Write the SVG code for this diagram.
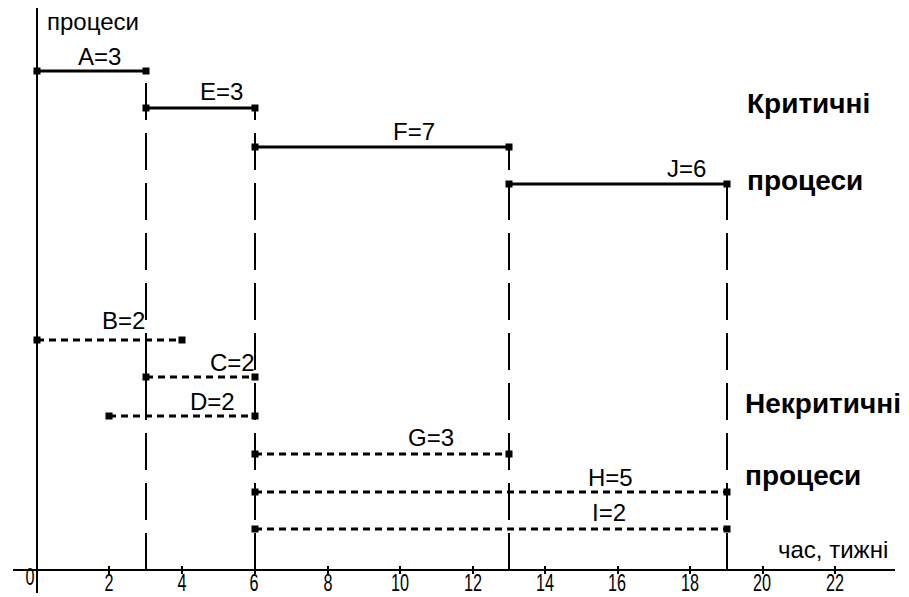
<svg xmlns="http://www.w3.org/2000/svg" width="909" height="597" viewBox="0 0 909 597">
<style>
text{font-family:"Liberation Sans",Arial,sans-serif;fill:#000}
.lbl{font-size:24px}
.big{font-size:28px;font-weight:bold}
.tick{font-size:23px;text-anchor:middle}
.axis{stroke:#000;stroke-width:2;fill:none}
.crit{stroke:#000;stroke-width:3;fill:none}
.non{stroke:#000;stroke-width:3;fill:none;stroke-dasharray:7 5}
.vd{stroke:#000;stroke-width:2;fill:none;stroke-dasharray:37 13}
.sq{fill:#000}
</style>
<rect width="909" height="597" fill="#fff"/>
<g id="axes">
<line class="axis" x1="37" y1="8" x2="37" y2="593"/>
<line class="axis" x1="13" y1="570" x2="895" y2="570"/>
<path class="axis" d="M109 566V574M182 566V574M255 566V574M328 566V574M400 566V574M473 566V574M545 566V574M618 566V574M690 566V574M763 566V574M835 566V574"/>
<text x="30" y="585" class="tick" textLength="9" lengthAdjust="spacingAndGlyphs">0</text>
<text x="109" y="591" class="tick" textLength="9" lengthAdjust="spacingAndGlyphs">2</text>
<text x="182" y="591" class="tick" textLength="9" lengthAdjust="spacingAndGlyphs">4</text>
<text x="254" y="591" class="tick" textLength="9" lengthAdjust="spacingAndGlyphs">6</text>
<text x="328" y="591" class="tick" textLength="9" lengthAdjust="spacingAndGlyphs">8</text>
<text x="400" y="591" class="tick" textLength="18" lengthAdjust="spacingAndGlyphs">10</text>
<text x="473" y="591" class="tick" textLength="18" lengthAdjust="spacingAndGlyphs">12</text>
<text x="545" y="591" class="tick" textLength="18" lengthAdjust="spacingAndGlyphs">14</text>
<text x="617" y="591" class="tick" textLength="18" lengthAdjust="spacingAndGlyphs">16</text>
<text x="690" y="591" class="tick" textLength="18" lengthAdjust="spacingAndGlyphs">18</text>
<text x="762" y="591" class="tick" textLength="18" lengthAdjust="spacingAndGlyphs">20</text>
<text x="835" y="591" class="tick" textLength="18" lengthAdjust="spacingAndGlyphs">22</text>
<text x="47" y="30" class="lbl">процеси</text>
<text x="778" y="558" class="lbl">час, тижні</text>
</g>
<g id="connectors">
<path class="vd" d="M146 570V83"/>
<line class="axis" x1="146" y1="333" x2="146" y2="420"/>
<path class="vd" d="M255 570V108"/>
<path class="vd" d="M509 570V147"/>
<path class="vd" d="M727 570V184"/>
</g>
<g id="A">
<line class="crit" x1="37" y1="71" x2="146" y2="71"/>
<rect class="sq" x="33.5" y="67.5" width="7" height="7"/><rect class="sq" x="142.5" y="67.5" width="7" height="7"/>
<text x="78" y="65" class="lbl">A=3</text>
</g>
<g id="E">
<line class="crit" x1="146" y1="108" x2="255" y2="108"/>
<rect class="sq" x="142.5" y="104.5" width="7" height="7"/><rect class="sq" x="251.5" y="104.5" width="7" height="7"/>
<text x="200" y="100" class="lbl">E=3</text>
</g>
<g id="F">
<line class="crit" x1="255" y1="147" x2="509" y2="147"/>
<rect class="sq" x="251.5" y="143.5" width="7" height="7"/><rect class="sq" x="505.5" y="143.5" width="7" height="7"/>
<text x="393" y="140" class="lbl">F=7</text>
</g>
<g id="J">
<line class="crit" x1="509" y1="184" x2="727" y2="184"/>
<rect class="sq" x="505.5" y="180.5" width="7" height="7"/><rect class="sq" x="723.5" y="180.5" width="7" height="7"/>
<text x="667" y="177" class="lbl">J=6</text>
</g>
<g id="B">
<line class="non" x1="37" y1="340" x2="182" y2="340"/>
<rect class="sq" x="33.5" y="336.5" width="7" height="7"/><rect class="sq" x="178.5" y="336.5" width="7" height="7"/>
<text x="102" y="329" class="lbl">B=2</text>
</g>
<g id="C">
<line class="non" x1="146" y1="377" x2="255" y2="377"/>
<rect class="sq" x="142.5" y="373.5" width="7" height="7"/><rect class="sq" x="251.5" y="373.5" width="7" height="7"/>
<text x="210" y="371" class="lbl">C=2</text>
</g>
<g id="D">
<line class="non" x1="109" y1="416" x2="255" y2="416"/>
<rect class="sq" x="105.5" y="412.5" width="7" height="7"/><rect class="sq" x="251.5" y="412.5" width="7" height="7"/>
<text x="190" y="410" class="lbl">D=2</text>
</g>
<g id="G">
<line class="non" x1="255" y1="454" x2="509" y2="454"/>
<rect class="sq" x="251.5" y="450.5" width="7" height="7"/><rect class="sq" x="505.5" y="450.5" width="7" height="7"/>
<text x="408" y="446" class="lbl">G=3</text>
</g>
<g id="H">
<line class="non" x1="255" y1="492" x2="727" y2="492"/>
<rect class="sq" x="251.5" y="488.5" width="7" height="7"/><rect class="sq" x="723.5" y="488.5" width="7" height="7"/>
<text x="588" y="486" class="lbl">H=5</text>
</g>
<g id="I">
<line class="non" x1="255" y1="529" x2="727" y2="529"/>
<rect class="sq" x="251.5" y="525.5" width="7" height="7"/><rect class="sq" x="723.5" y="525.5" width="7" height="7"/>
<text x="592" y="521" class="lbl">I=2</text>
</g>
<g id="legend">
<text x="747" y="113" class="big">Критичні</text>
<text x="747" y="190" class="big">процеси</text>
<text x="745" y="413" class="big">Некритичні</text>
<text x="745" y="485" class="big">процеси</text>
</g>
</svg>
